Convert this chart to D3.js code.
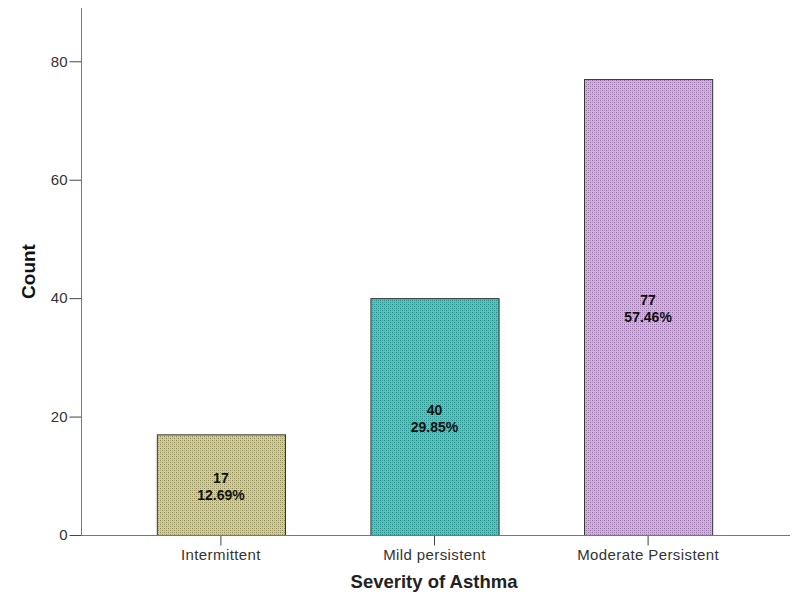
<!DOCTYPE html>
<html>
<head>
<meta charset="utf-8">
<script src="https://cdn.jsdelivr.net/npm/d3@7"></script>
<style>
  body { margin: 0; background: #fff; }
  text { font-family: "Liberation Sans", Arial, sans-serif; }
</style>
</head>
<body>
<svg id="chart" width="800" height="610"></svg>
<script>
const categories = ['Intermittent', 'Mild persistent', 'Moderate Persistent']
const counts = [17, 40, 77]
const percents = ['12.69%', '29.85%', '57.46%']
const yTicks = [0, 20, 40, 60, 80]
const yMax = 89

const baseColors = ['#d3cd8e', '#45cbc6', '#d8abeb']
const dotColors = ['#8c8757', '#2b8986', '#8f6fa0']

const svg = d3.select('#chart')
const axisX = 81, baseY = 535, topY = 8, rightX = 790

const x = d3.scaleBand().domain(categories).range([axisX, 788]).paddingInner(0.4).paddingOuter(0.355)
const y = d3.scaleLinear().domain([0, yMax]).range([baseY, topY])

// dotted fill patterns
const defs = svg.append('defs')
categories.forEach((c, i) => {
  const p = defs.append('pattern')
    .attr('id', 'pat' + i)
    .attr('width', 4).attr('height', 4)
    .attr('patternUnits', 'userSpaceOnUse')
  p.append('rect').attr('width', 4).attr('height', 4).attr('fill', baseColors[i])
  p.append('rect').attr('x', 0).attr('y', 0).attr('width', 1).attr('height', 1).attr('fill', dotColors[i])
  p.append('rect').attr('x', 2).attr('y', 2).attr('width', 1).attr('height', 1).attr('fill', dotColors[i])
  p.append('rect').attr('x', 2).attr('y', 0).attr('width', 1).attr('height', 1).attr('fill', dotColors[i]).attr('opacity', 0.5)
  p.append('rect').attr('x', 0).attr('y', 2).attr('width', 1).attr('height', 1).attr('fill', dotColors[i]).attr('opacity', 0.5)
})

// bars
svg.selectAll('rect.bar')
  .data(counts)
  .join('rect')
  .attr('class', 'bar')
  .attr('x', (d, i) => x(categories[i]) + 0.5)
  .attr('y', d => y(d) + 0.5)
  .attr('width', x.bandwidth())
  .attr('height', d => baseY - y(d))
  .attr('fill', (d, i) => `url(#pat${i})`)
  .attr('stroke', '#333')
  .attr('stroke-width', 1)

// bar labels (count over percent)
const lab = svg.selectAll('g.lab')
  .data(counts)
  .join('g')
  .attr('class', 'lab')
  .attr('transform', (d, i) => `translate(${x(categories[i]) + x.bandwidth() / 2},${(y(d) + baseY) / 2})`)
lab.append('text')
  .attr('text-anchor', 'middle')
  .attr('y', -2)
  .style('font-size', '14px').style('font-weight', 'bold').attr('fill', '#111')
  .text(d => d)
lab.append('text')
  .attr('text-anchor', 'middle')
  .attr('y', 15)
  .style('font-size', '14px').style('font-weight', 'bold').attr('fill', '#111')
  .text((d, i) => percents[i])

// y axis
const yAxis = svg.append('g')
  .attr('transform', `translate(${axisX + 0.5},0)`)
  .call(d3.axisLeft(y).tickValues(yTicks).tickSize(12).tickPadding(2))
yAxis.select('.domain').remove()
yAxis.selectAll('line').attr('stroke', '#444')
yAxis.selectAll('text').style('font-size', '15px').attr('fill', '#333')
svg.append('line')
  .attr('x1', axisX + 0.5).attr('x2', axisX + 0.5)
  .attr('y1', topY).attr('y2', baseY)
  .attr('stroke', '#777')

// x axis
const xAxis = svg.append('g')
  .attr('transform', `translate(0,${baseY + 0.5})`)
  .call(d3.axisBottom(x).tickSize(10).tickPadding(4))
xAxis.select('.domain').remove()
xAxis.selectAll('line').attr('stroke', '#444')
xAxis.selectAll('text').style('font-size', '15px').style('letter-spacing', '0.4px').attr('fill', '#333')
svg.append('line')
  .attr('x1', axisX).attr('x2', rightX)
  .attr('y1', baseY + 0.5).attr('y2', baseY + 0.5)
  .attr('stroke', '#777')

// axis titles
svg.append('text')
  .attr('transform', `translate(35,${(topY + baseY) / 2}) rotate(-90)`)
  .attr('text-anchor', 'middle')
  .style('font-size', '19px').style('font-weight', 'bold').attr('fill', '#111')
  .text('Count')
svg.append('text')
  .attr('x', 434).attr('y', 588)
  .attr('text-anchor', 'middle')
  .style('font-size', '18.5px').style('font-weight', 'bold').attr('fill', '#222')
  .text('Severity of Asthma')
</script>
</body>
</html>
